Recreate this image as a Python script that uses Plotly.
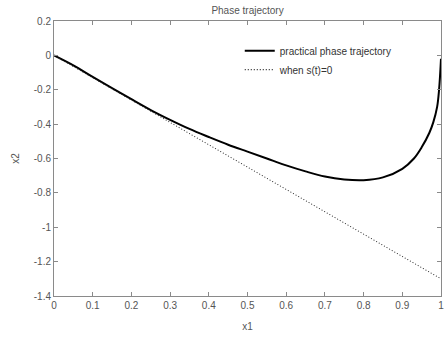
import plotly.graph_objects as go

# Practical phase trajectory (x1, x2)
traj_x1 = [0.0, 0.05, 0.1, 0.15, 0.2, 0.25, 0.3, 0.35, 0.4, 0.45, 0.5, 0.55, 0.6,
           0.65, 0.7, 0.75, 0.8, 0.85, 0.9, 0.93, 0.95, 0.97, 0.98, 0.99, 0.995, 1.0]
traj_x2 = [0.0, -0.058, -0.125, -0.19, -0.255, -0.318, -0.375, -0.428, -0.475, -0.52,
           -0.56, -0.6, -0.64, -0.675, -0.705, -0.722, -0.726, -0.71, -0.66, -0.6,
           -0.535, -0.45, -0.39, -0.3, -0.2, -0.02]

# Sliding surface s(t)=0: straight line through the origin
surf_x1 = [0.0, 1.0]
surf_x2 = [0.0, -1.3]

x_ticks = [0, 0.1, 0.2, 0.3, 0.4, 0.5, 0.6, 0.7, 0.8, 0.9, 1]
y_ticks = [0.2, 0, -0.2, -0.4, -0.6, -0.8, -1, -1.2, -1.4]

font = "Liberation Sans, Arial, sans-serif"
grey = "#555555"
axis_col = "#8a8a8a"

fig = go.Figure()
fig.add_trace(go.Scatter(x=traj_x1, y=traj_x2, mode="lines", line_shape="spline",
                         name="practical phase trajectory",
                         line=dict(color="black", width=2)))
fig.add_trace(go.Scatter(x=surf_x1, y=surf_x2, mode="lines",
                         name="when s(t)=0",
                         line=dict(color="#222222", width=1.1, dash="1px,2px")))

axis_common = dict(showgrid=False, zeroline=False, showline=True, linecolor=axis_col,
                   linewidth=1, mirror="ticks", ticks="inside", ticklen=4,
                   tickcolor=axis_col, ticklabeloverflow="allow",
                   tickfont=dict(family=font, size=10, color=grey))

fig.update_layout(
    width=444, height=337,
    margin=dict(l=54, r=3, t=21, b=41, autoexpand=False),
    paper_bgcolor="white", plot_bgcolor="white",
    title=dict(text="Phase trajectory", x=0.5575, xanchor="center", y=0.97, yanchor="middle",
               font=dict(family=font, size=10, color=grey)),
    xaxis=dict(range=[0, 1], tickvals=x_ticks, ticktext=[f"{v:g}" for v in x_ticks],
               title=dict(text="x1", font=dict(family=font, size=10, color=grey), standoff=12),
               automargin=False, **axis_common),
    yaxis=dict(range=[-1.4, 0.2], tickvals=y_ticks, ticktext=[f"{v:g}" for v in y_ticks],
               title=dict(text="x2", font=dict(family=font, size=10, color=grey), standoff=12),
               automargin=False, **axis_common),
    legend=dict(x=0.48, y=0.945, xanchor="left", yanchor="top", bgcolor="rgba(0,0,0,0)",
                font=dict(family=font, size=10, color="#333333"), tracegroupgap=0,
                itemwidth=30),
    showlegend=True,
)

fig.write_html("out.html")
